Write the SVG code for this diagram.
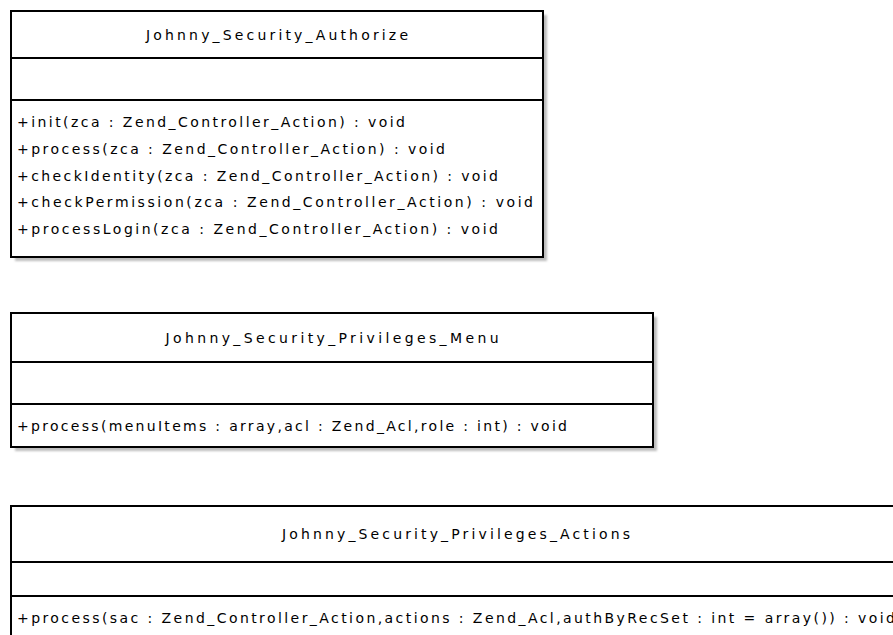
<svg xmlns="http://www.w3.org/2000/svg" width="893" height="635" viewBox="0 0 893 635">
  <defs>
    <filter id="soft" x="-5%" y="-5%" width="110%" height="110%">
      <feGaussianBlur stdDeviation="1.2"/>
    </filter>
  </defs>
  <style>
    .shadow { fill: #bdbdbd; filter: url(#soft); }
    .box { fill: #ffffff; stroke: #000000; stroke-width: 2; }
    .sep { stroke: #000000; stroke-width: 2; }
    .name { font-family: "DejaVu Sans", "Liberation Sans", sans-serif; font-size: 14px; fill: #000000; text-anchor: middle; }
    .op { font-family: "DejaVu Sans", "Liberation Sans", sans-serif; font-size: 14px; fill: #000000; }
  </style>
  <rect width="893" height="635" fill="#ffffff"/>

  <!-- class: Johnny_Security_Authorize -->
  <g id="authorize">
    <rect class="shadow" x="15" y="15" width="532" height="246"/>
    <rect class="box" x="11" y="11" width="532" height="246"/>
    <line class="sep" x1="11" y1="58" x2="543" y2="58"/>
    <line class="sep" x1="11" y1="100" x2="543" y2="100"/>
    <text class="name" x="277" y="40" textLength="262" lengthAdjust="spacing">Johnny_Security_Authorize</text>
    <text class="op" x="17" y="127" textLength="388" lengthAdjust="spacing">+init(zca : Zend_Controller_Action) : void</text>
    <text class="op" x="17" y="153.8" textLength="428" lengthAdjust="spacing">+process(zca : Zend_Controller_Action) : void</text>
    <text class="op" x="17" y="180.6" textLength="481" lengthAdjust="spacing">+checkIdentity(zca : Zend_Controller_Action) : void</text>
    <text class="op" x="17" y="207.4" textLength="516" lengthAdjust="spacing">+checkPermission(zca : Zend_Controller_Action) : void</text>
    <text class="op" x="17" y="234.2" textLength="481" lengthAdjust="spacing">+processLogin(zca : Zend_Controller_Action) : void</text>
  </g>

  <!-- class: Johnny_Security_Privileges_Menu -->
  <g id="privileges-menu">
    <rect class="shadow" x="15" y="317" width="642" height="134"/>
    <rect class="box" x="11" y="313" width="642" height="134"/>
    <line class="sep" x1="11" y1="362" x2="653" y2="362"/>
    <line class="sep" x1="11" y1="404" x2="653" y2="404"/>
    <text class="name" x="332" y="342.5" textLength="333" lengthAdjust="spacing">Johnny_Security_Privileges_Menu</text>
    <text class="op" x="17" y="431" textLength="550" lengthAdjust="spacing">+process(menuItems : array,acl : Zend_Acl,role : int) : void</text>
  </g>

  <!-- class: Johnny_Security_Privileges_Actions (runs past the right and bottom edges) -->
  <g id="privileges-actions">
    <rect class="shadow" x="15" y="510" width="890" height="140"/>
    <rect class="box" x="11" y="506" width="890" height="140"/>
    <line class="sep" x1="11" y1="562" x2="901" y2="562"/>
    <line class="sep" x1="11" y1="596" x2="901" y2="596"/>
    <text class="name" x="456" y="539" textLength="348" lengthAdjust="spacing">Johnny_Security_Privileges_Actions</text>
    <text class="op" x="17" y="623" textLength="878" lengthAdjust="spacing">+process(sac : Zend_Controller_Action,actions : Zend_Acl,authByRecSet : int = array()) : void</text>
  </g>

  <g id="connectors"/>
</svg>
